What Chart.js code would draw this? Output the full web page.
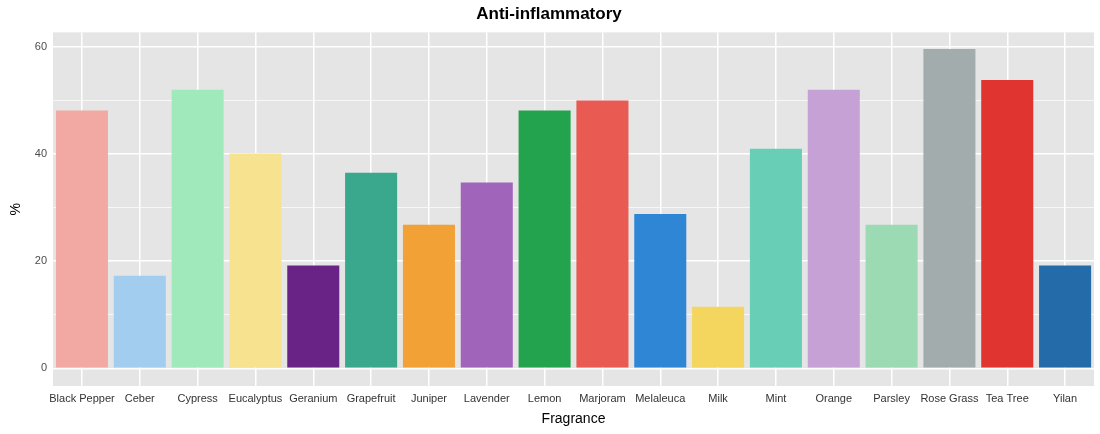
<!DOCTYPE html>
<html>
<head>
<meta charset="utf-8">
<script src="https://cdn.jsdelivr.net/npm/chart.js@4"></script>
<style>
  html, body { margin: 0; padding: 0; background: #fff; }
  #wrap { width: 1100px; height: 434px; }
</style>
</head>
<body>
<div id="wrap"><canvas id="chart"></canvas></div>
<script>
var fragrances = ['Black Pepper', 'Ceber', 'Cypress', 'Eucalyptus', 'Geranium', 'Grapefruit',
  'Juniper', 'Lavender', 'Lemon', 'Marjoram', 'Melaleuca', 'Milk', 'Mint', 'Orange',
  'Parsley', 'Rose Grass', 'Tea Tree', 'Yilan'];
var percent = [48.1, 17.3, 52.0, 40.1, 19.2, 36.5, 26.8, 34.7, 48.1, 50.0, 28.8, 11.5,
  41.0, 52.0, 26.8, 59.6, 53.8, 19.2];
var barColors = ['#f2a9a3', '#a3cdee', '#9fe9bb', '#f7e28f', '#692387', '#3aa88d',
  '#f2a136', '#a064ba', '#24a34e', '#e85a52', '#2e86d5', '#f4d65e', '#68cfb6', '#c6a1d6',
  '#9bdab2', '#a2acad', '#e03431', '#236ca9'];
var yTicks = [0, 10, 20, 30, 40, 50, 60];

// grey panel behind the plot, like ggplot
var panelBg = {
  id: 'panelBg',
  beforeDraw: function(chart) {
    var a = chart.chartArea, ctx = chart.ctx;
    ctx.save();
    ctx.fillStyle = '#e5e5e5';
    ctx.fillRect(a.left, a.top, a.right - a.left, a.bottom - a.top);
    ctx.restore();
  }
};

new Chart(document.getElementById('chart'), {
  type: 'bar',
  data: {
    labels: fragrances,
    datasets: [{
      data: percent,
      backgroundColor: barColors,
      categoryPercentage: 0.9,
      barPercentage: 1.0
    }]
  },
  plugins: [panelBg],
  options: {
    responsive: true,
    maintainAspectRatio: false,
    animation: false,
    layout: { padding: { top: 4, right: 6, left: 4, bottom: 2 } },
    plugins: {
      legend: { display: false },
      tooltip: { enabled: false },
      title: {
        display: true,
        text: 'Anti-inflammatory',
        color: '#000',
        font: { family: 'Liberation Sans', size: 17 },
        padding: { top: 0, bottom: 8 }
      }
    },
    scales: {
      x: {
        grid: { offset: false, color: '#ffffff', lineWidth: 1.5, drawTicks: false },
        border: { display: false },
        ticks: {
          color: '#333', padding: 6, maxRotation: 0, autoSkip: false,
          font: { family: 'Liberation Sans', size: 11 }
        },
        title: {
          display: true, text: 'Fragrance', color: '#000',
          font: { family: 'Liberation Sans', size: 14 }, padding: { top: 0 }
        }
      },
      y: {
        min: -3.3,
        max: 62.7,
        afterBuildTicks: function(axis) {
          axis.ticks = yTicks.map(function(v) { return { value: v }; });
        },
        grid: {
          color: '#ffffff', drawTicks: false,
          lineWidth: function(c) { return c.tick && c.tick.value % 20 === 0 ? 1.5 : 0.7; }
        },
        border: { display: false },
        ticks: {
          color: '#4d4d4d', padding: 6,
          font: { family: 'Liberation Sans', size: 11 },
          callback: function(v) { return v % 20 === 0 ? v : ''; }
        },
        title: {
          display: true, text: '%', color: '#000',
          font: { family: 'Liberation Sans', size: 14 }
        }
      }
    }
  }
});
</script>
</body>
</html>
